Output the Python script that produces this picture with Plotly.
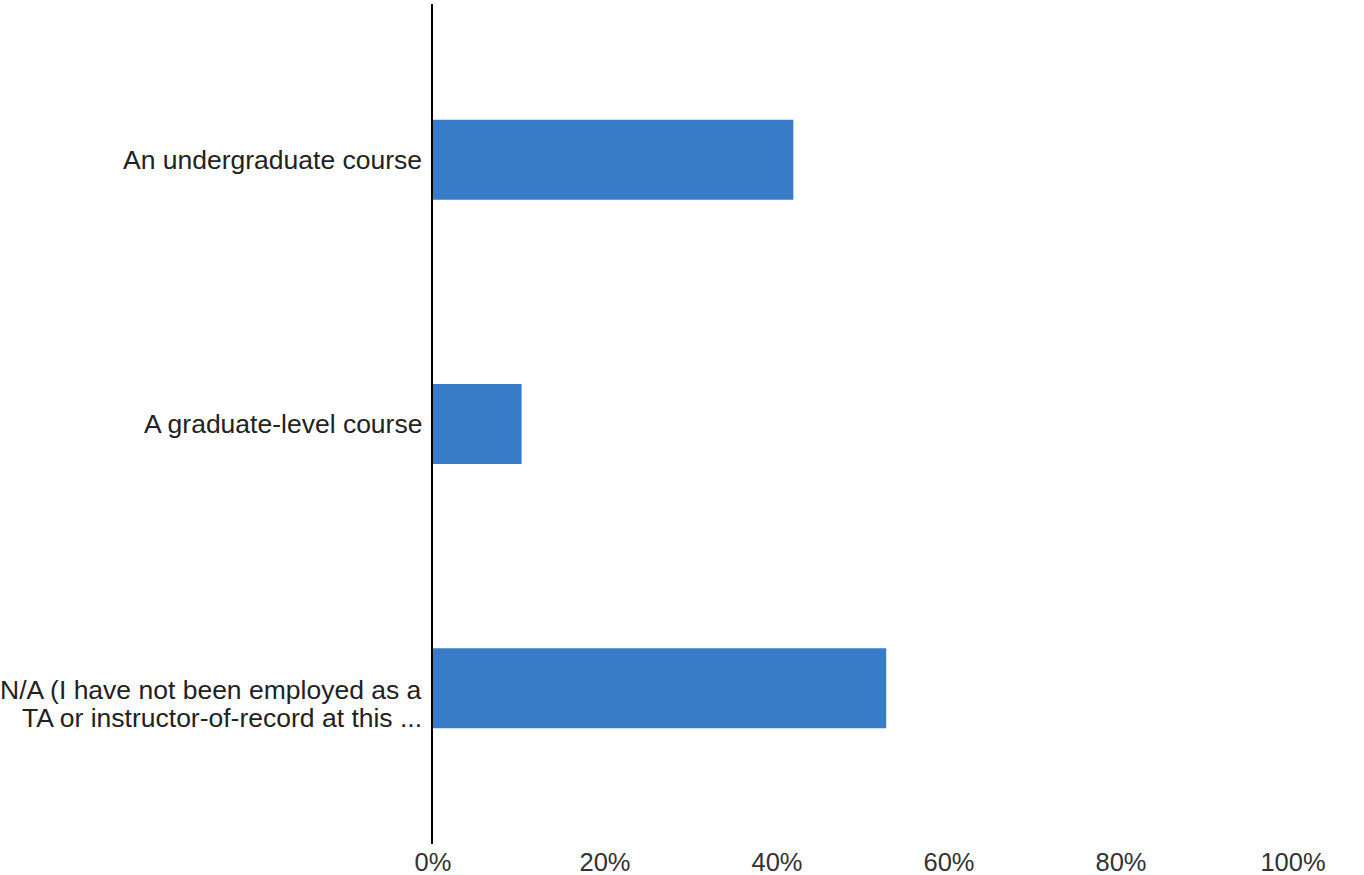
import plotly.graph_objects as go

categories = [
    "An undergraduate course",
    "A graduate-level course",
    "N/A (I have not been employed as a<br>TA or instructor-of-record at this ...",
]
values = [0.419, 0.103, 0.527]
tick_vals = [0, 0.2, 0.4, 0.6, 0.8, 1.0]
tick_text = ["0%", "20%", "40%", "60%", "80%", "100%"]

fig = go.Figure(
    go.Bar(
        x=values,
        y=categories,
        orientation="h",
        marker=dict(color="#387cc8", line=dict(width=0)),
        width=0.303,
    )
)

# category labels drawn as annotations (tight line spacing like the reference)
line_gap = 28
for cat in categories:
    lines = cat.split("<br>")
    for i, ln in enumerate(lines):
        shift = 0 if len(lines) == 1 else -2 - i * line_gap
        fig.add_annotation(
            x=0, y=cat, xref="x", yref="y",
            text=ln, showarrow=False,
            xanchor="right", yanchor="middle",
            xshift=-9, yshift=shift,
            font=dict(family="Liberation Sans, Arial, sans-serif", size=26.5, color="#222222"),
        )

fig.update_layout(
    width=1364,
    height=875,
    margin=dict(l=433, r=71, t=4, b=31),
    paper_bgcolor="white",
    plot_bgcolor="white",
    font=dict(family="Liberation Sans, Arial, sans-serif", size=24, color="#222222"),
    showlegend=False,
)
fig.update_xaxes(
    range=[0, 1],
    tickvals=tick_vals,
    ticktext=tick_text,
    showgrid=False,
    zeroline=False,
    showline=False,
    ticks="",
    ticklabelstandoff=0,
    automargin=False,
    tickfont=dict(size=25.5, color="#333333"),
)
fig.update_yaxes(
    autorange=False,
    range=[2.59, -0.59],
    categoryorder="array",
    categoryarray=categories,
    showgrid=False,
    zeroline=False,
    showline=True,
    linecolor="black",
    linewidth=2,
    ticks="",
    showticklabels=False,
    automargin=False,
)

fig.write_html(
    "out.html",
    config={"displayModeBar": False},
    post_script="document.body.style.margin='0px';document.body.style.overflow='hidden';",
)
